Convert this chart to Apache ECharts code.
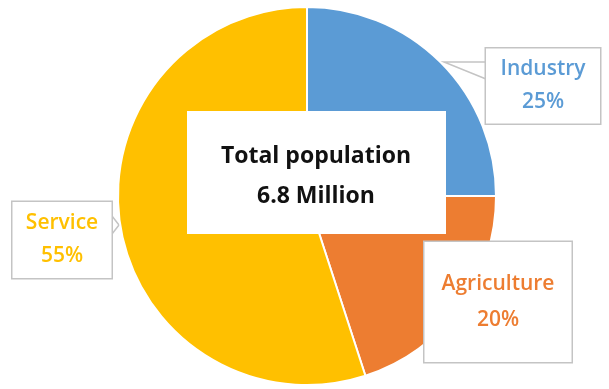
<!DOCTYPE html>
<html>
<head>
<meta charset="utf-8">
<script src="https://cdn.jsdelivr.net/npm/echarts@6/dist/echarts.min.js"></script>
<style>
  html, body { margin: 0; padding: 0; background: #fff; }
  #main { width: 609px; height: 389px; }
</style>
</head>
<body>
<div id="main"></div>
<script>
var sectors = ['Industry', 'Agriculture', 'Service'];
var shares = [25, 20, 55];
var colors = ['#5b9bd5', '#ed7d31', '#ffc000'];
var totalTitle = 'Total population';
var totalValue = '6.8 Million';

// callout boxes: centre, size, line height, pointer
var boxes = [
  { x: 543, y: 86, w: 114, h: 75, lh: 33, line: [[486, 62], [444, 62], [486, 79]] },
  { x: 498, y: 302, w: 147, h: 120, lh: 36, line: null },
  { x: 62, y: 240, w: 99, h: 76, lh: 33, line: [[112, 216], [119, 225], [112, 234]] }
];

var chart = echarts.init(document.getElementById('main'));

var data = sectors.map(function (name, i) {
  var b = boxes[i];
  return {
    name: name,
    value: shares[i],
    itemStyle: { color: colors[i] },
    label: {
      color: colors[i],
      width: b.w,
      lineHeight: b.lh,
      padding: [(b.h - 2 * b.lh) / 2, 0]
    },
    labelLine: { show: !!b.line }
  };
});

chart.setOption({
  animation: false,
  series: [{
    type: 'pie',
    center: [307, 196],
    radius: 189,
    startAngle: 90,
    clockwise: true,
    avoidLabelOverlap: false,
    itemStyle: { borderColor: '#fff', borderWidth: 2 },
    label: {
      show: true,
      position: 'outside',
      formatter: '{b}\n{d}%',
      fontFamily: 'Open Sans',
      fontSize: 21,
      fontWeight: 600,
      align: 'center',
      backgroundColor: '#fff',
      borderColor: '#c4c4c4',
      borderWidth: 1.5
    },
    labelLine: {
      lineStyle: { color: '#c4c4c4', width: 1.5 }
    },
    labelLayout: function (p) {
      var b = boxes[p.dataIndex];
      var r = { x: b.x, y: b.y, align: 'center', verticalAlign: 'middle' };
      if (b.line) r.labelLinePoints = b.line;
      return r;
    },
    data: data
  }],
  graphic: [
    {
      type: 'rect',
      z: 100,
      shape: { x: 187, y: 111, width: 259, height: 123 },
      style: { fill: '#fff' }
    },
    {
      type: 'text',
      z: 101,
      x: 316,
      y: 176,
      style: {
        text: totalTitle + '\n' + totalValue,
        fill: '#111',
        fontFamily: 'Open Sans',
        fontSize: 23,
        fontWeight: 'bold',
        lineHeight: 40,
        align: 'center',
        verticalAlign: 'middle'
      }
    }
  ]
});
</script>
</body>
</html>
